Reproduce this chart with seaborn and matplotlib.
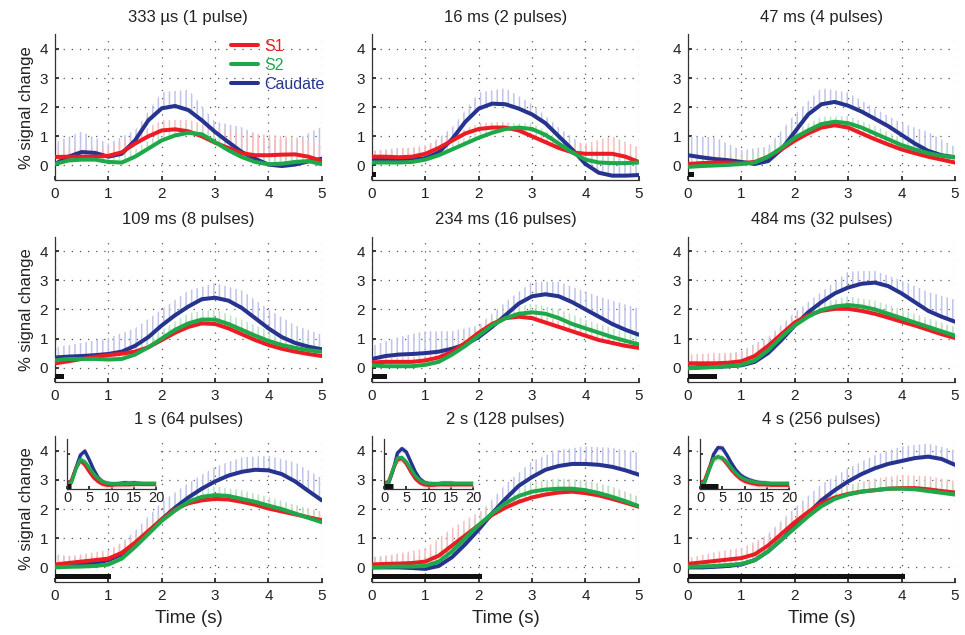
import pandas as pd
import matplotlib
matplotlib.use("Agg")
import matplotlib.pyplot as plt
from matplotlib.lines import Line2D
import seaborn as sns

# ---- data ----
TIME = [0, 0.25, 0.5, 0.75, 1.0, 1.25, 1.5, 1.75, 2.0, 2.25, 2.5,
        2.75, 3.0, 3.25, 3.5, 3.75, 4.0, 4.25, 4.5, 4.75, 5.0]
ERR_TIME = [0, 0.5, 1.0, 1.5, 2.0, 2.5, 3.0, 3.5, 4.0, 4.5, 5.0]
INSET_TIME = list(range(21))

titles = ["333 µs (1 pulse)", "16 ms (2 pulses)", "47 ms (4 pulses)",
          "109 ms (8 pulses)", "234 ms (16 pulses)", "484 ms (32 pulses)",
          "1 s (64 pulses)", "2 s (128 pulses)", "4 s (256 pulses)"]
durations = [0.000333, 0.016, 0.047, 0.109, 0.234, 0.484, 1.0, 2.0, 4.0]

# 333 us
p1_s1 = [0.29, 0.3, 0.3, 0.3, 0.33, 0.45, 0.75, 1.0, 1.2, 1.24, 1.17, 1.0, 0.78, 0.6, 0.42, 0.35, 0.35, 0.37, 0.38, 0.3, 0.15]
p1_s2 = [0.05, 0.17, 0.2, 0.2, 0.12, 0.1, 0.3, 0.58, 0.86, 1.03, 1.12, 1.07, 0.8, 0.52, 0.29, 0.12, 0.04, 0.06, 0.12, 0.15, 0.04]
p1_cd = [0.05, 0.3, 0.46, 0.43, 0.3, 0.4, 0.86, 1.55, 1.96, 2.04, 1.9, 1.55, 1.15, 0.8, 0.46, 0.23, 0.03, -0.02, 0.03, 0.14, 0.23]
p1_s1_err = [0.3, 0.3, 0.3, 0.3, 0.35, 0.4, 0.5, 0.7, 0.7, 0.6, 0.55]
p1_s2_err = [0.25, 0.25, 0.25, 0.25, 0.3, 0.3, 0.3, 0.3, 0.25, 0.25, 0.25]
p1_cd_err = [0.75, 0.7, 0.45, 0.35, 0.55, 0.7, 0.35, 0.85, 0.85, 0.85, 1.1]

# 16 ms
p2_s1 = [0.3, 0.3, 0.28, 0.3, 0.4, 0.6, 0.85, 1.1, 1.25, 1.3, 1.3, 1.2, 1.0, 0.8, 0.6, 0.45, 0.4, 0.4, 0.4, 0.3, 0.12]
p2_s2 = [0.1, 0.1, 0.1, 0.12, 0.2, 0.35, 0.55, 0.75, 0.95, 1.12, 1.25, 1.3, 1.25, 1.05, 0.75, 0.45, 0.2, 0.1, 0.08, 0.08, 0.1]
p2_cd = [0.2, 0.2, 0.2, 0.2, 0.25, 0.45, 0.9, 1.5, 1.95, 2.12, 2.1, 1.95, 1.75, 1.45, 1.0, 0.55, 0.05, -0.25, -0.35, -0.35, -0.33]
p2_s1_err = [0.2, 0.25, 0.3, 0.2, 0.2, 0.2, 0.2, 0.2, 0.35, 0.6, 0.5]
p2_s2_err = [0.2, 0.2, 0.2, 0.2, 0.2, 0.2, 0.2, 0.2, 0.25, 0.3, 0.25]
p2_cd_err = [0.3, 0.4, 0.35, 0.4, 0.55, 0.55, 0.35, 0.3, 0.6, 0.8, 0.6]

# 47 ms
p3_s1 = [0.05, 0.08, 0.1, 0.1, 0.08, 0.12, 0.3, 0.55, 0.85, 1.1, 1.3, 1.38, 1.3, 1.1, 0.9, 0.72, 0.55, 0.42, 0.3, 0.2, 0.1]
p3_s2 = [-0.05, -0.02, 0.0, 0.02, 0.05, 0.1, 0.3, 0.6, 0.95, 1.2, 1.42, 1.5, 1.45, 1.3, 1.1, 0.9, 0.7, 0.55, 0.42, 0.33, 0.28]
p3_cd = [0.35, 0.28, 0.22, 0.18, 0.12, 0.05, 0.15, 0.55, 1.15, 1.75, 2.1, 2.18, 2.05, 1.85, 1.6, 1.35, 1.05, 0.75, 0.5, 0.35, 0.28]
p3_s1_err = [0.3, 0.3, 0.3, 0.25, 0.25, 0.25, 0.3, 0.3, 0.3, 0.3, 0.3]
p3_s2_err = [0.25, 0.25, 0.25, 0.25, 0.25, 0.25, 0.25, 0.25, 0.25, 0.25, 0.25]
p3_cd_err = [0.65, 0.75, 0.4, 0.5, 0.6, 0.55, 0.45, 0.35, 0.4, 0.65, 0.35]

# 109 ms
p4_s1 = [0.15, 0.22, 0.3, 0.37, 0.43, 0.48, 0.55, 0.7, 0.95, 1.2, 1.4, 1.52, 1.5, 1.35, 1.15, 0.95, 0.78, 0.65, 0.55, 0.47, 0.4]
p4_s2 = [0.25, 0.3, 0.3, 0.3, 0.28, 0.3, 0.45, 0.7, 1.0, 1.3, 1.52, 1.65, 1.65, 1.5, 1.3, 1.1, 0.92, 0.78, 0.68, 0.6, 0.55]
p4_cd = [0.35, 0.38, 0.4, 0.43, 0.47, 0.55, 0.75, 1.05, 1.45, 1.8, 2.1, 2.35, 2.4, 2.3, 2.05, 1.7, 1.35, 1.05, 0.85, 0.72, 0.63]
p4_s1_err = [0.1, 0.1, 0.15, 0.2, 0.25, 0.3, 0.3, 0.3, 0.3, 0.25, 0.2]
p4_s2_err = [0.1, 0.1, 0.15, 0.25, 0.3, 0.35, 0.35, 0.35, 0.35, 0.35, 0.3]
p4_cd_err = [0.35, 0.45, 0.55, 0.6, 0.55, 0.55, 0.5, 0.6, 0.65, 0.6, 0.5]

# 234 ms
p5_s1 = [0.18, 0.2, 0.2, 0.2, 0.25, 0.35, 0.55, 0.85, 1.2, 1.5, 1.7, 1.75, 1.7, 1.55, 1.4, 1.25, 1.1, 0.95, 0.85, 0.75, 0.68]
p5_s2 = [0.08, 0.05, 0.05, 0.05, 0.1, 0.2, 0.45, 0.75, 1.1, 1.45, 1.7, 1.85, 1.9, 1.85, 1.7, 1.5, 1.35, 1.2, 1.05, 0.92, 0.8]
p5_cd = [0.3, 0.4, 0.45, 0.47, 0.5, 0.55, 0.65, 0.8, 1.05, 1.4, 1.8, 2.2, 2.45, 2.52, 2.45, 2.25, 2.0, 1.75, 1.5, 1.3, 1.13]
p5_s1_err = [0.15, 0.15, 0.15, 0.2, 0.2, 0.2, 0.2, 0.2, 0.2, 0.2, 0.2]
p5_s2_err = [0.15, 0.15, 0.15, 0.2, 0.25, 0.3, 0.3, 0.3, 0.3, 0.3, 0.3]
p5_cd_err = [0.45, 0.6, 0.75, 0.6, 0.4, 0.45, 0.5, 0.5, 0.6, 0.8, 0.9]

# 484 ms
p6_s1 = [0.15, 0.15, 0.15, 0.17, 0.22, 0.4, 0.75, 1.15, 1.55, 1.8, 1.95, 2.02, 2.02, 1.95, 1.85, 1.72, 1.58, 1.45, 1.3, 1.15, 1.02]
p6_s2 = [-0.02, 0.0, 0.02, 0.05, 0.1, 0.25, 0.6, 1.05, 1.45, 1.75, 1.98, 2.1, 2.15, 2.1, 2.0, 1.85, 1.7, 1.55, 1.4, 1.25, 1.1]
p6_cd = [0.0, 0.02, 0.03, 0.05, 0.08, 0.2, 0.5, 0.95, 1.45, 1.9, 2.25, 2.55, 2.75, 2.88, 2.92, 2.8, 2.55, 2.25, 1.95, 1.75, 1.58]
p6_s1_err = [0.3, 0.35, 0.3, 0.2, 0.2, 0.25, 0.3, 0.3, 0.3, 0.3, 0.35]
p6_s2_err = [0.2, 0.2, 0.2, 0.2, 0.2, 0.25, 0.3, 0.3, 0.3, 0.3, 0.3]
p6_cd_err = [0.1, 0.3, 0.5, 0.55, 0.45, 0.35, 0.55, 0.4, 0.45, 0.65, 0.75]

# 1 s
p7_s1 = [0.1, 0.15, 0.2, 0.25, 0.3, 0.5, 0.85, 1.25, 1.65, 2.0, 2.2, 2.3, 2.35, 2.33, 2.25, 2.15, 2.02, 1.92, 1.82, 1.72, 1.62]
p7_s2 = [0.0, 0.02, 0.03, 0.05, 0.1, 0.3, 0.7, 1.15, 1.6, 1.95, 2.25, 2.42, 2.48, 2.45, 2.35, 2.25, 2.12, 2.0, 1.85, 1.7, 1.55]
p7_cd = [0.05, 0.08, 0.1, 0.15, 0.25, 0.45, 0.8, 1.2, 1.65, 2.05, 2.4, 2.7, 2.95, 3.15, 3.28, 3.35, 3.33, 3.2, 2.95, 2.62, 2.3]
p7_s1_err = [0.2, 0.25, 0.3, 0.25, 0.2, 0.2, 0.25, 0.3, 0.3, 0.3, 0.3]
p7_s2_err = [0.2, 0.2, 0.2, 0.25, 0.25, 0.25, 0.3, 0.3, 0.3, 0.3, 0.3]
p7_cd_err = [0.4, 0.25, 0.2, 0.45, 0.6, 0.5, 0.5, 0.5, 0.5, 0.65, 0.75]

# 2 s
p8_s1 = [0.1, 0.12, 0.13, 0.15, 0.2, 0.4, 0.75, 1.1, 1.45, 1.8, 2.05, 2.25, 2.4, 2.5, 2.57, 2.6, 2.55, 2.47, 2.35, 2.22, 2.08]
p8_s2 = [0.0, 0.02, 0.03, 0.03, 0.05, 0.2, 0.55, 1.0, 1.45, 1.85, 2.2, 2.45, 2.6, 2.67, 2.7, 2.7, 2.65, 2.55, 2.42, 2.27, 2.1]
p8_cd = [0.0, 0.0, 0.0, -0.02, -0.05, 0.05, 0.35, 0.8, 1.3, 1.85, 2.35, 2.8, 3.1, 3.35, 3.48, 3.55, 3.55, 3.52, 3.45, 3.33, 3.18]
p8_s1_err = [0.2, 0.35, 0.45, 0.6, 0.45, 0.3, 0.35, 0.4, 0.4, 0.4, 0.35]
p8_s2_err = [0.2, 0.2, 0.25, 0.3, 0.3, 0.3, 0.35, 0.35, 0.35, 0.35, 0.3]
p8_cd_err = [0.35, 0.45, 0.4, 0.5, 0.5, 0.5, 0.55, 0.55, 0.6, 0.65, 0.75]

# 4 s
p9_s1 = [0.12, 0.17, 0.22, 0.27, 0.32, 0.45, 0.75, 1.15, 1.55, 1.9, 2.2, 2.4, 2.52, 2.6, 2.65, 2.7, 2.72, 2.72, 2.68, 2.62, 2.57]
p9_s2 = [0.02, 0.03, 0.05, 0.08, 0.12, 0.25, 0.55, 0.95, 1.35, 1.75, 2.1, 2.35, 2.5, 2.6, 2.65, 2.7, 2.7, 2.68, 2.62, 2.56, 2.5]
p9_cd = [0.0, 0.0, 0.02, 0.05, 0.1, 0.25, 0.55, 0.95, 1.4, 1.85, 2.3, 2.65, 2.95, 3.2, 3.4, 3.55, 3.65, 3.75, 3.8, 3.72, 3.52]
p9_s1_err = [0.2, 0.3, 0.35, 0.35, 0.3, 0.3, 0.3, 0.4, 0.45, 0.45, 0.4]
p9_s2_err = [0.15, 0.2, 0.25, 0.3, 0.3, 0.3, 0.3, 0.3, 0.3, 0.3, 0.3]
p9_cd_err = [0.1, 0.2, 0.35, 0.6, 0.65, 0.55, 0.45, 0.45, 0.5, 0.45, 0.5]

# 0-20 s insets (bottom row)
in7_s1 = [0.1, 0.3, 1.6, 2.35, 1.9, 1.2, 0.6, 0.2, -0.05, -0.15, -0.15, -0.1, -0.1, -0.1, -0.1, -0.05, -0.05, -0.05, -0.05, -0.05, -0.05]
in7_s2 = [0.0, 0.1, 1.5, 2.45, 2.2, 1.6, 1.0, 0.5, 0.2, 0.05, 0.0, 0.0, 0.0, 0.0, 0.05, 0.05, 0.05, 0.05, 0.05, 0.05, 0.05]
in7_cd = [0.05, 0.3, 1.6, 2.9, 3.3, 2.4, 1.4, 0.6, 0.2, 0.05, 0.0, 0.0, 0.05, 0.1, 0.05, 0.1, 0.05, 0.0, 0.0, 0.0, 0.0]
in8_s1 = [0.1, 0.2, 1.45, 2.4, 2.55, 2.0, 1.2, 0.5, 0.1, -0.1, -0.15, -0.15, -0.1, -0.1, -0.1, -0.1, -0.1, -0.1, -0.1, -0.1, -0.1]
in8_s2 = [0.0, 0.05, 1.45, 2.6, 2.65, 2.2, 1.5, 0.8, 0.35, 0.1, 0.05, 0.0, 0.0, 0.05, 0.05, 0.05, 0.05, 0.05, 0.05, 0.05, 0.05]
in8_cd = [0.0, 0.0, 1.3, 3.1, 3.55, 3.2, 2.2, 1.2, 0.5, 0.15, 0.0, 0.0, 0.0, 0.05, 0.05, 0.05, 0.0, 0.0, 0.0, 0.0, 0.0]
in9_s1 = [0.12, 0.32, 1.55, 2.52, 2.72, 2.55, 2.0, 1.4, 0.9, 0.5, 0.25, 0.1, 0.0, -0.1, -0.1, -0.1, -0.15, -0.15, -0.15, -0.15, -0.15]
in9_s2 = [0.02, 0.12, 1.35, 2.5, 2.7, 2.6, 2.2, 1.6, 1.1, 0.7, 0.45, 0.3, 0.2, 0.1, 0.1, 0.05, 0.05, 0.05, 0.05, 0.05, 0.05]
in9_cd = [0.0, 0.1, 1.4, 2.95, 3.65, 3.6, 2.9, 2.1, 1.4, 0.9, 0.6, 0.4, 0.25, 0.15, 0.1, 0.05, 0.0, 0.0, 0.0, 0.0, 0.0]
in_err = [0.1, 0.15, 0.25, 0.35, 0.35, 0.35, 0.3, 0.3, 0.3, 0.3, 0.3, 0.3, 0.3, 0.3, 0.3, 0.3, 0.25, 0.25, 0.25, 0.25, 0.25]

regions = ["S1", "S2", "Caudate"]
colors = {"S1": "#ec1c24", "S2": "#1fa84a", "Caudate": "#27348f"}
light = {"S1": "#f7bdbd", "S2": "#bce3c6", "Caudate": "#c0c3ea"}

panels = [
    (p1_s1, p1_s2, p1_cd, p1_s1_err, p1_s2_err, p1_cd_err),
    (p2_s1, p2_s2, p2_cd, p2_s1_err, p2_s2_err, p2_cd_err),
    (p3_s1, p3_s2, p3_cd, p3_s1_err, p3_s2_err, p3_cd_err),
    (p4_s1, p4_s2, p4_cd, p4_s1_err, p4_s2_err, p4_cd_err),
    (p5_s1, p5_s2, p5_cd, p5_s1_err, p5_s2_err, p5_cd_err),
    (p6_s1, p6_s2, p6_cd, p6_s1_err, p6_s2_err, p6_cd_err),
    (p7_s1, p7_s2, p7_cd, p7_s1_err, p7_s2_err, p7_cd_err),
    (p8_s1, p8_s2, p8_cd, p8_s1_err, p8_s2_err, p8_cd_err),
    (p9_s1, p9_s2, p9_cd, p9_s1_err, p9_s2_err, p9_cd_err),
]
insets = {6: (in7_s1, in7_s2, in7_cd), 7: (in8_s1, in8_s2, in8_cd), 8: (in9_s1, in9_s2, in9_cd)}

sns.set_theme(style="white")
plt.rcParams["font.family"] = ["Liberation Sans", "DejaVu Sans"]
plt.rcParams["hatch.linewidth"] = 1.1

fig = plt.figure(figsize=(9.65, 6.35), dpi=100)

col_left = [0.057, 0.3855, 0.713]
row_bottom = [0.7165, 0.398, 0.0835]
ax_w, ax_h = 0.2765, 0.2295

for i, (s1, s2, cd, s1e, s2e, cde) in enumerate(panels):
    r, c = divmod(i, 3)
    ax = fig.add_axes([col_left[c], row_bottom[r], ax_w, ax_h])

    means = {"S1": s1, "S2": s2, "Caudate": cd}
    errs = {"S1": s1e, "S2": s2e, "Caudate": cde}

    # light hatched upper error bars
    for reg in ["Caudate", "S1", "S2"]:
        lo = means[reg][::2]
        hi = [m + e for m, e in zip(lo, errs[reg])]
        ax.fill_between(ERR_TIME, lo, hi, facecolor="none", edgecolor=light[reg],
                        hatch="|||", linewidth=0, zorder=1)

    df = pd.DataFrame({
        "time": TIME * 3,
        "value": cd + s1 + s2,
        "region": ["Caudate"] * 21 + ["S1"] * 21 + ["S2"] * 21,
    })
    sns.lineplot(data=df, x="time", y="value", hue="region",
                 hue_order=["Caudate", "S1", "S2"], palette=colors,
                 linewidth=2.9, errorbar=None, legend=False, ax=ax, zorder=3)

    # stimulus duration bar
    ax.plot([0, durations[i]], [-0.3, -0.3], color="#111111", linewidth=3.6,
            solid_capstyle="projecting", zorder=4)

    ax.set_xlim(0, 5)
    ax.set_ylim(-0.5, 4.5)
    ax.set_xticks([0, 1, 2, 3, 4, 5])
    ax.set_yticks([0, 1, 2, 3, 4])
    ax.grid(True, linestyle=(0, (1, 5.5)), color="#555555", linewidth=0.9)
    ax.set_axisbelow(True)
    for side in ["top", "right"]:
        ax.spines[side].set_visible(False)
    for side in ["left", "bottom"]:
        ax.spines[side].set_color("#333333")
        ax.spines[side].set_linewidth(0.9)
    ax.tick_params(direction="in", length=3, labelsize=11, pad=5,
                   colors="#222222", left=True, bottom=True)
    ax.set_title(titles[i], fontsize=12, pad=9, color="#222222")
    ax.set_xlabel("Time (s)" if r == 2 else "", fontsize=13.5, labelpad=5, color="#222222")
    ax.set_ylabel("% signal change" if c == 0 else "", fontsize=12, labelpad=4, color="#222222")

    if i == 0:
        handles = [Line2D([], [], color=colors[reg], linewidth=2.9) for reg in regions]
        ax.legend(handles, regions, loc="upper left", bbox_to_anchor=(0.66, 0.97),
                  frameon=False, fontsize=11.5, labelcolor="linecolor",
                  handlelength=1.7, handletextpad=0.4, labelspacing=0.25,
                  borderpad=0, borderaxespad=0)

    if i in insets:
        ins = ax.inset_axes([0.045, 0.64, 0.335, 0.34])
        ins.set_facecolor("white")
        ins.set_zorder(5)
        in_s1, in_s2, in_cd = insets[i]
        in_means = {"S1": in_s1, "S2": in_s2, "Caudate": in_cd}
        for reg in ["Caudate", "S1", "S2"]:
            m = in_means[reg]
            ins.fill_between(INSET_TIME, [a - e for a, e in zip(m, in_err)],
                             [a + e for a, e in zip(m, in_err)],
                             color=light[reg], alpha=0.5, linewidth=0)
        idf = pd.DataFrame({
            "time": INSET_TIME * 3,
            "value": in_cd + in_s1 + in_s2,
            "region": ["Caudate"] * 21 + ["S1"] * 21 + ["S2"] * 21,
        })
        sns.lineplot(data=idf, x="time", y="value", hue="region",
                     hue_order=["Caudate", "S1", "S2"], palette=colors,
                     linewidth=2.4, errorbar=None, legend=False, ax=ins)
        ins.plot([0, durations[i]], [-0.25, -0.25], color="#111111",
                 linewidth=3.6, solid_capstyle="butt")
        ins.set_xlim(0, 20)
        ins.set_ylim(-0.5, 4.5)
        ins.set_xticks([0, 5, 10, 15, 20])
        ins.set_yticks([0, 3])
        ins.set_yticklabels([])
        ins.set_xlabel("")
        ins.set_ylabel("")
        for side in ["top", "right"]:
            ins.spines[side].set_visible(False)
        for side in ["left", "bottom"]:
            ins.spines[side].set_color("#333333")
            ins.spines[side].set_linewidth(0.9)
        ins.tick_params(direction="in", length=2, labelsize=10.5, pad=2,
                        colors="#222222", left=True, bottom=True)

fig.savefig("out.png", dpi=100)
